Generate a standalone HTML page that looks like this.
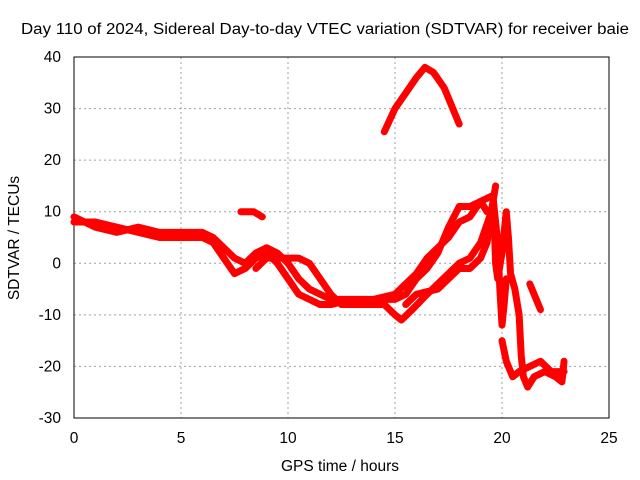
<!DOCTYPE html>
<html><head><meta charset="utf-8"><style>
body{margin:0;background:#fff}
svg{display:block;font-family:"Liberation Sans",sans-serif;font-size:15.5px}
</style></head><body>
<svg id="chart" width="640" height="480">
<rect x="0" y="0" width="640" height="480" fill="#fff"/>
<g id="grid"></g>
<rect x="74" y="57" width="535" height="361" fill="none" stroke="#000" stroke-width="1"/>
<g id="ticks"></g>
<g id="series"></g>
<text x="21" y="34" textLength="608" lengthAdjust="spacingAndGlyphs">Day 110 of 2024, Sidereal Day-to-day VTEC variation (SDTVAR) for receiver baie</text>
<text x="340" y="471" text-anchor="middle">GPS time / hours</text>
<text transform="translate(19,238) rotate(-90)" text-anchor="middle">SDTVAR / TECUs</text>
</svg>
<script>
const xTicks=[0,5,10,15,20,25];
const yTicks=[40,30,20,10,0,-10,-20,-30];
const trackArc=[[14.5,25.5],[15,30],[15.5,33],[16,36],[16.4,38],[16.8,37],[17.3,34],[17.7,30],[18,27]];
const trackShort=[[7.8,10],[8.4,10],[8.8,9]];
const trackA=[[0,8],[1,8],[2,7],[3,6],[4,5],[5,5],[6,5],[6.5,4],[7,1],[7.5,-2],[8,-1],[8.5,1],[9,2],[9.5,0],[10,-3],[10.5,-6],[11,-7],[11.5,-8],[12,-8],[13,-7],[14,-8],[14.5,-7],[15,-7],[15.5,-6],[16,-3],[16.5,-1],[17,2],[17.5,7],[18,11],[18.5,11],[19,12],[19.3,10]];
const trackB=[[0,9],[1,7],[2,6],[3,7],[4,6],[5,6],[6,6],[6.5,5],[7,3],[7.5,1],[8,0],[8.5,2],[9,3],[9.5,2],[10,0],[10.5,-3],[11,-5],[11.5,-6],[12,-7],[13,-7],[14,-7],[15,-6],[15.5,-4],[16,-2],[16.5,1],[17,3],[17.5,5],[18,8],[18.5,9],[19,12],[19.5,13]];
const trackC=[[8.5,-1],[9,1],[10,1],[10.5,1],[11,0],[11.5,-3],[12,-6],[12.5,-8],[13.5,-8],[14.5,-8],[15,-10],[15.3,-11],[15.8,-9],[16.5,-6],[17,-4],[17.5,-2],[18,0],[18.5,1],[19,4],[19.5,10],[19.7,15]];
const trackD=[[15.5,-8],[16,-6],[17,-5],[17.5,-3],[18,-1],[18.5,-1],[19,1],[19.3,4],[19.6,12],[19.8,4],[19.9,-5],[20,-12],[20.1,-8],[20.2,-3]];
const trackE=[[19.6,12],[19.7,0],[19.8,-3],[20,2],[20.2,10],[20.3,5],[20.4,-2],[20.6,-5],[20.8,-10],[20.9,-18],[21,-22],[21.2,-24],[21.5,-22],[22,-21],[22.5,-22],[22.8,-23],[22.9,-19]];
const trackF=[[20,-15],[20.2,-19],[20.5,-22],[20.8,-21],[21.3,-20],[21.8,-19],[22.3,-21],[22.9,-21]];
const trackG=[[21.3,-4],[21.6,-7],[21.8,-9]];
const tracks=[trackArc,trackShort,trackA,trackB,trackC,trackD,trackE,trackF,trackG];
const X=t=>74+t*21.4, Y=v=>57+(40-v)*361/70;
const NS="http://www.w3.org/2000/svg";
const grid=document.getElementById('grid'),ticks=document.getElementById('ticks'),series=document.getElementById('series');
xTicks.forEach(t=>{
 if(t>0&&t<25){const l=document.createElementNS(NS,'line');l.setAttribute('x1',X(t));l.setAttribute('x2',X(t));l.setAttribute('y1',57);l.setAttribute('y2',418);l.setAttribute('stroke','#a0a0a0');l.setAttribute('stroke-dasharray','2,3');
 
 
 grid.appendChild(l);}
 const tx=document.createElementNS(NS,'text');tx.setAttribute('x',X(t));tx.setAttribute('y',443);tx.setAttribute('text-anchor','middle');tx.textContent=t;
 
 
 ticks.appendChild(tx);
});
yTicks.forEach(v=>{
 if(v<40&&v>-30){const l=document.createElementNS(NS,'line');l.setAttribute('x1',74);l.setAttribute('x2',609);l.setAttribute('y1',Y(v));l.setAttribute('y2',Y(v));l.setAttribute('stroke','#a0a0a0');l.setAttribute('stroke-dasharray','2,3');
 
 
 grid.appendChild(l);}
 const tx=document.createElementNS(NS,'text');tx.setAttribute('x',61);tx.setAttribute('y',Y(v)+5);tx.setAttribute('text-anchor','end');tx.textContent=v;
 
 
 ticks.appendChild(tx);
});
tracks.forEach((tr,i)=>{
 const p=document.createElementNS(NS,'polyline');
 p.setAttribute('points',tr.map(d=>X(d[0])+','+Y(d[1])).join(' '));
 p.setAttribute('fill','none');p.setAttribute('stroke','#ff0000');p.setAttribute('stroke-width','7');p.setAttribute('stroke-linejoin','round');p.setAttribute('stroke-linecap','round');
 
 
 series.appendChild(p);
});
</script>
</body></html>
